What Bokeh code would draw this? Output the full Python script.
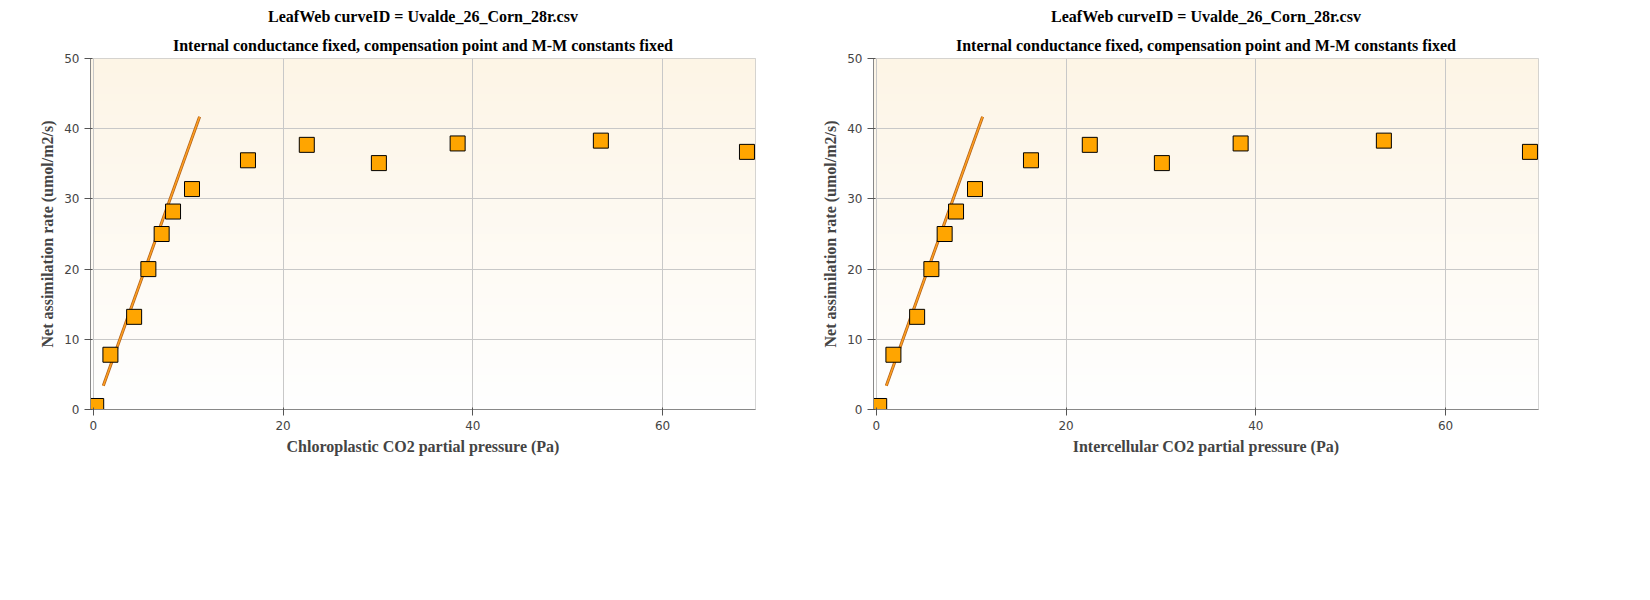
import numpy as np
from bokeh.plotting import figure
from bokeh.layouts import row
from bokeh.models import Range1d, Legend, LegendItem, Title, FixedTicker
from bokeh.embed import file_html
from bokeh.resources import INLINE

ci = [0.3, 1.8, 4.3, 5.8, 7.2, 8.4, 10.4, 16.3, 22.5, 30.1, 38.4, 53.5, 68.9]
an = [0.5, 7.8, 13.2, 20.0, 25.0, 28.2, 31.4, 35.5, 37.7, 35.1, 37.9, 38.3, 36.7]
fit_x = [1.05, 11.2]
fit_y = [3.4, 41.7]
xlabels = ["Chloroplastic CO2 partial pressure (Pa)", "Intercellular CO2 partial pressure (Pa)"]
title1 = "LeafWeb curveID = Uvalde_26_Corn_28r.csv"
title2 = "Internal conductance fixed, compensation point and M-M constants fixed"

SERIF = "Liberation Serif"
SANS = "DejaVu Sans"

def make(xlabel):
    p = figure(frame_width=665, frame_height=351, output_backend="svg", toolbar_location=None,
               x_range=Range1d(-0.3, 69.8), y_range=Range1d(0, 50),
               min_border_left=90, min_border_right=24, min_border_top=12, min_border_bottom=10)
    # background gradient
    n = 100
    img = np.zeros((n, 1), dtype=np.uint32)
    v = img.view(dtype=np.uint8).reshape((n, 1, 4))
    for i in range(n):
        t = i / (n - 1)
        v[i, 0, 0] = int(255 + (253 - 255) * t)
        v[i, 0, 1] = int(255 + (245 - 255) * t)
        v[i, 0, 2] = int(255 + (230 - 255) * t)
        v[i, 0, 3] = 255
    p.image_rgba(image=[img], x=-0.3, y=0, dw=70.1, dh=50, level="image")
    p.add_layout(Title(text=title2, text_font=SERIF, text_font_size="16px", align="center", text_color="black"), "above")
    p.add_layout(Title(text=title1, text_font=SERIF, text_font_size="16px", align="center", text_color="black"), "above")
    p.line(fit_x, fit_y, line_color="#b0601a", line_width=3)
    p.line(fit_x, fit_y, line_color="#ffa020", line_width=1.5)
    r1 = p.scatter([np.nan], [np.nan], marker="diamond", size=12, fill_color="#e01010", line_color="#e01010")
    r2 = p.scatter([np.nan], [np.nan], marker="circle", size=12, fill_color="#0010f0", line_color="#0010f0")
    r3 = p.scatter(ci, an, marker="square", size=15, fill_color="#ffa500", line_color="black", line_width=1)
    p.xaxis.axis_label = xlabel
    p.yaxis.axis_label = "Net assimilation rate (umol/m2/s)"
    for ax in (p.xaxis, p.yaxis):
        ax.axis_label_text_font = SERIF
        ax.axis_label_text_font_style = "bold"
        ax.axis_label_text_font_size = "16px"
        ax.major_label_text_font = SANS
        ax.major_label_text_font_size = "12px"
        ax.minor_tick_line_color = None
        ax.axis_line_color = "#888888"
        ax.major_tick_line_color = "#555555"
    p.xaxis.ticker = FixedTicker(ticks=[0, 20, 40, 60])
    p.yaxis.ticker = FixedTicker(ticks=[0, 10, 20, 30, 40, 50])
    p.grid.grid_line_color = "#c8c8c8"
    p.outline_line_color = "#c8c8c8"
    leg = Legend(items=[LegendItem(label="Rubisco-limited", renderers=[r1]),
                        LegendItem(label="RuBP regeneration-limited", renderers=[r2]),
                        LegendItem(label="TPU-limited", renderers=[r3])],
                 orientation="horizontal", border_line_color=None, background_fill_alpha=0,
                 label_text_font=SANS, label_text_font_size="16px", spacing=40,
                 location="left", margin=12, padding=10, glyph_width=20, glyph_height=20)
    p.add_layout(leg, "below")
    return p

left = make(xlabels[0])
right = make(xlabels[1])
layout = row(left, right, spacing=4)
open("out.html", "w").write(file_html(layout, INLINE))
